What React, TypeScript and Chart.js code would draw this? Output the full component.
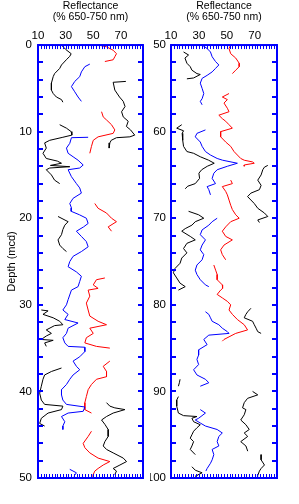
import React, { useEffect, useRef } from "react";
import { Chart, registerables } from "chart.js";

Chart.register(...registerables);

// ---------- axis setup ----------
const xTickLabels = [10, 30, 50, 70];
const xRange = [10, 86];
const leftDepthTicks = [0, 10, 20, 30, 40, 50];
const rightDepthTicks = [50, 60, 70, 80, 90, 100];
const titleLines = ["Reflectance", "(% 650-750 nm)"];
const yTitleText = "Depth (mcd)";

// ---------- left panel (0-50 mcd) ----------
const leftBlackDepth = [
  0, 0.5, 1.0, 1.3, 1.7, 2.3, 2.7, 3.3, 3.65, 4.4, 5.2, 5.6, 6.0, 6.3, 6.6, null,
  4.2, 4.3, 5.2, 6.0, 6.5, 7.1, 7.7, 8.3, 8.8, 9.4, 9.8, 10.4, 10.6, 10.7, 11.0, 11.3, 11.9, null,
  9.2, 9.6, 10.0, 10.4, 10.65, 11.0, 11.3, 11.9, 12.5, 13.1, 13.4, 13.65, 13.9, 14.05, 14.2, 14.4, 15.0, 15.6, 16.0, null,
  19.8, 20.4, 20.8, 21.3, 21.9, 22.5, 23.1, 23.5, 23.85, null,
  30.6, 30.7, 31.1, 31.5, 31.9, 32.3, 32.4, 32.9, 33.3, 33.6, 34.0, 34.1, 34.4, 34.8, null,
  37.3, 37.7, 38.1, 38.6, 39.4, 40.2, 41.0, 41.5, 41.7, 42.1, 42.5, 43.1, 43.7, 44.0, null,
  41.3, 41.7, 41.9, 42.1, 42.5, 42.9, 43.3, 43.8, 44.4, 45.2, 45.8, 46.3, 46.7, 47.1, 47.7, 48.1, 48.5, 48.9, 49.2, 49.6,
];
const leftBlackValue = [
  27, 30, 34, 33, 30.5, 27, 25.7, 22, 21, 19.7, 19.7, 21, 23.3, 27, 28, null,
  73.6, 64.4, 65.6, 69, 71.7, 73, 70.5, 71.7, 75.3, 74, 77, 80, 76.5, 66.8, 63, 62, 61.5, null,
  25.7, 30.6, 34, 34.5, 28, 18.5, 14.8, 16, 13.6, 16, 24, 27, 19, 33, 18.5, 16, 19.7, 22, 25.7, null,
  24.5, 31.8, 29.4, 28, 27, 24.5, 25.7, 28, 30.6, null,
  12.4, 17.3, 13.6, 21, 25.7, 28, 22, 16, 19.7, 16, 12.4, 21, 14.8, 16, null,
  27, 19.7, 14.8, 13.6, 12.4, 11.2, 12.4, 14.8, 28, 27, 17.3, 12.4, 11.2, 14.8, null,
  59.6, 62, 65.6, 72.9, 64.4, 59.6, 56, 58.4, 60.8, 60.8, 58.4, 57.2, 59.6, 64.4, 71.7, 74.1, 69.3, 64.4, 66.8, 65.6,
];

const leftBlueDepth = [
  2.2, 2.5, 3.1, 3.65, 4.2, 4.8, 5.4, 6.0, 6.5, null,
  10.65, 10.7, 11.35, 11.9, 12.5, 12.9, 13.3, 13.85, 14.2, 14.4, 15.2, 16.0, 16.5, 17.1, 17.7, 18.3, 18.8, 19.2,
  19.6, 20.0, 20.6, 21.0, 21.5, 22.1, 22.7, 23.3, 23.85, 24.4, 25.0, 25.6, 26.2, 26.7, 27.3, 27.9, 28.3, 29.4,
  30.0, 30.6, 31.1, 31.7, 32.1, 32.7, 33.3, 33.8, 34.4, 34.8, 34.9, 35.4, 36.0, 36.5, 37.1, 37.5, 38.1, 38.6,
  39.2, 39.8, 40.4, 41.0, 41.5, 41.8, 42.3, 42.5, 42.9, 43.5, 44.0, 44.4, null,
  49.0, 49.4, 49.8,
];
const leftBlueValue = [
  47.5, 43.9, 41.4, 40.2, 36.6, 34.2, 36.6, 39, 41.4, null,
  46.3, 34.2, 33, 30.6, 31.8, 35.4, 39, 42.7, 40.2, 31.8, 34.2, 37.8, 40.2, 41.4, 35.4, 33, 34.2, 34,
  40, 45, 46.3, 43, 37.8, 41.4, 45, 46.3, 41.4, 35.4, 33, 31.8, 37.8, 41.4, 40.2, 39, 34.2, 31.8,
  30.6, 28, 31.8, 29.4, 39, 31.8, 30.6, 28, 29.4, 31.8, 43.9, 43.9, 40.2, 35.4, 37.8, 40.2, 35.4, 33,
  30.6, 27, 27, 28, 30.6, 43.9, 42.7, 31.8, 27, 29.4, 28, 28, null,
  33, 37.8, 36,
];

const leftRedDepth = [
  0, 0.2, 0.6, 1.0, 1.35, 1.7, 1.9, null,
  7.7, 8.3, 8.65, 9.2, 9.8, 10.2, 10.6, 11.0, 11.7, 12.5, null,
  18.3, 18.85, 19.4, 20.0, 20.4, 21.0, 21.5, null,
  26.9, 27.1, 27.7, 28.1, 28.3, 29.0, 29.8, 30.6, 31.3, 31.9, 32.3, 32.7, 33.3, 33.8, 34.4, 34.8, 35.0, null,
  36.5, 37.1, 37.7, 38.3, 38.6, 39.2, 39.8, 40.6, 41.3, 41.9, 42.1, 42.5, null,
  44.6, 45.2, 46.0, 46.5, 47.1, 47.7, 48.1, 48.5, 48.9, 49.2, 49.6, 49.9,
];
const leftRedValue = [
  53.5, 59.6, 64.4, 66.8, 65.6, 64.4, 58.4, null,
  56, 57.2, 59.6, 63.2, 65.6, 64.4, 53.5, 50, 48.7, 47.5, null,
  51.1, 53.5, 59.6, 63.2, 66.8, 60.8, 63.2, null,
  58.4, 52.3, 50, 53.5, 46.3, 47.5, 45, 46.3, 47.5, 53.5, 59.6, 47.5, 50, 45, 43.9, 52.3, 62, null,
  62, 57.2, 59.6, 59.6, 52.3, 48.7, 46.3, 45, 43.9, 43.9, 43.9, 48.7, null,
  48.7, 46.3, 42.7, 43.9, 47.5, 53.5, 62, 57.2, 53.5, 51.1, 50, 50,
];

// ---------- right panel (50-100 mcd) ----------
const rightBlackDepth = [
  50.8, 51.15, 51.5, 52.1, 52.5, 52.9, 53.3, 53.4, 53.8, 53.9, null,
  59.2, 59.6, 59.9, 60.2, 61.0, 61.7, 62.3, 62.5, 62.9, 63.3, 63.65, 64.0, 64.4, 64.8, 65.4, 66.0, 66.3, 66.6, null,
  63.9, 64.1, 64.4, 65.0, 65.6, 66.2, 66.7, 67.1, 67.5, 67.9, 68.3, 68.85, 69.4, 69.8, 70.2, 70.5, null,
  69.2, 69.6, 70.0, 70.4, 70.8, 71.2, 71.5, 72.1, 72.5, 72.9, 73.5, 74.0, 74.6, 75.2, 75.8, 76.3, 76.9, 77.5, 77.9, 78.3, null,
  80.4, 80.8, 81.1, 81.5, 81.9, 82.3, 82.7, 83.1, 83.3, null,
  88.6, 89.0, 89.4, null,
  90.6, 91.0, 91.7, 92.5, 92.8, 92.9, 93.1, 93.5, 93.85, 94.2, 94.6, 95.0, 95.4, 95.8, 96.3, 96.7, 97.3, null,
  98.7, 99.1, 99.4, 99.7, 99.9, null,
  90.0, 90.4, 90.8, 91.3, 91.9, 92.1, 92.7, 93.3, 93.85, 94.4, 94.8, 95.2, 95.8, 96.3, 96.9, null,
  97.3, 97.9, 98.5, 98.9, 99.2, 99.7, 100,
];
const rightBlackValue = [
  19, 22.6, 20, 21.4, 23.8, 25, 28.6, 31, 26.2, 21.4, null,
  17.7, 14.1, 19, 18, 18.4, 19, 21.4, 26.2, 31, 37, 41, 36, 32, 30, 30.5, 27.4, 22, 20.2, null,
  79.4, 77, 75.8, 74.6, 72.2, 74.6, 73.4, 67.3, 64.9, 67.3, 69.7, 72.2, 77, 79.4, 72.2, 73.4, null,
  22.6, 29.8, 33.5, 27.4, 25, 20.2, 17.7, 23.8, 27.4, 21.4, 19, 21.4, 17.7, 16.5, 12.9, 11.7, 14.1, 16.5, 20.2, 15.3, null,
  67.3, 65, 63.7, 62.5, 68.5, 69.7, 71, 72.2, 74.6, null,
  16.5, 16, 15.3, null,
  15.3, 14.1, 14.1, 15.3, 19, 28.6, 25, 26.2, 31, 28.6, 26.2, 25, 23.8, 26.2, 25, 23.8, 27.4, null,
  25, 27.4, 32.3, 28.6, 28, null,
  68.5, 72.2, 64.9, 62.5, 61.3, 63.7, 62.5, 60, 63.7, 66.1, 62.5, 65, 60, 63.7, 65, null,
  74.6, 74.6, 77, 74.6, 73.4, 72.2, 72,
];

const rightBlueDepth = [
  50.0, 50.4, 50.8, 51.35, 51.9, 52.3, 52.7, 53.1, 53.5, 53.85, 54.4, 55.0, 55.6, 56.2, 56.5, 56.9, null,
  59.8, 60.2, 60.6, 61.2, 61.7, 62.3, 62.7, 63.1, 63.3, 63.65, 64.0, 64.4, 64.8, 65.4, 66.0, 66.35, 66.7, 67.3, null,
  70.0, 70.4, 70.8, 71.35, 71.9, 72.5, 73.1, 73.65, 74.2, 74.8, 75.4, 76.0, 76.5, 77.1, 77.7, 77.9, null,
  80.8, 81.1, 81.5, 81.9, 82.3, 82.7, 83.1, 83.3, 83.5, 84.0, 84.6, 85.2, 85.8, 86.3, 86.9, 87.5, 88.1, 88.6, 89.0, 89.4, null,
  92.1, 92.5, 93.1, 93.3, 93.65, 94.0, 94.4, 94.8, 95.2, 95.8, 96.3, 96.7, 97.3, 97.9, 98.3, 98.9, 99.2,
];
const rightBlueValue = [
  32.3, 35.9, 38.3, 39.5, 41.9, 44.3, 41.9, 39.5, 35.9, 32.3, 31, 32.3, 33.5, 32.3, 31, 32.3, null,
  34.7, 28.6, 27.4, 31, 32.3, 34.7, 38.3, 43.1, 47, 57.6, 50.4, 43.1, 40.7, 39.5, 41.9, 35.9, 37.1, 38.3, null,
  43.1, 39.5, 37.1, 32.3, 31, 34.7, 32.3, 31, 33.5, 32.3, 28.6, 27.4, 28.6, 31, 34.7, 37.1, null,
  34.7, 37.1, 38.3, 39.5, 44.3, 46.8, 50.4, 51.6, 37.1, 33.5, 35.9, 29.8, 29.8, 28.6, 29.8, 26.2, 28.6, 34.7, 37.1, 31, null,
  31, 34.7, 29.8, 27.4, 31, 34.7, 43.1, 46.8, 44.3, 43.1, 44.3, 39.5, 40.7, 39.5, 38.3, 35.9, 35,
];

const rightRedDepth = [
  50.0, 50.4, 51.0, 51.5, 52.1, 52.5, 52.9, 53.3, null,
  55.6, 56.0, 56.3, 56.7, 57.3, 57.7, 58.1, 58.5, 58.8, 59.2, 59.6, 60.0, 60.6, 61.2, 61.7, 62.3, 62.7, 63.1, 63.3, 63.5, 63.65, 63.85, 64.0, null,
  65.6, 66.0, 66.35, 66.9, 67.3, 67.9, 68.5, 69.0, 69.6, 70.0, 70.4, 71.0, 71.5, 72.1, 72.5, 73.1, 73.65, 74.2, 74.8, null,
  75.4, 76.0, 76.5, 77.1, 77.7, 78.1, 78.3, 78.8, 79.2, 79.6, 80.0, 80.6, 81.1, 81.7, 82.3, 82.9, 83.3, 83.7, 84.0, 84.2,
];
const rightRedValue = [
  52.8, 51.6, 52.8, 56.4, 58.9, 58.9, 56.4, 54, null,
  51.6, 46.8, 50.4, 48, 50.4, 51.6, 44.3, 46.8, 49.2, 51.6, 54, 45.6, 45.6, 49.2, 52.8, 55.2, 57.6, 60, 62.5, 68.5, 69.7, 62.5, 62.5, null,
  52.8, 54, 46.8, 49.2, 50.4, 51.6, 52.8, 54, 56.4, 58.9, 52.8, 49.2, 46.8, 49.2, 54, 48, 45.6, 46.8, 49.2, null,
  40.7, 42, 43.1, 43.1, 46.8, 47, 45.6, 43.1, 46.8, 50.4, 52.8, 51.6, 54, 57.6, 62.5, 64.9, 56.4, 51.6, 48, 46.8,
];

// ---------- styling ----------
const FONT = "'Liberation Sans', Arial, Helvetica, sans-serif";
const AXIS_BLUE = "#0000ff";
const BLACK = "#000000";
const BLUE = "#0000ff";
const RED = "#ff0000";

type Num = number | null;

function toPoints(depth: Num[], value: Num[]) {
  return depth.map((d, i) => ({ x: value[i], y: d }));
}

const framePlugin = {
  id: "frame",
  afterDatasetsDraw(chart: any) {
    const { ctx, chartArea } = chart;
    const { left, right, top, bottom } = chartArea;
    const xs = chart.scales.x;
    const ys = chart.scales.y;
    ctx.save();
    ctx.strokeStyle = AXIS_BLUE;
    // minor ticks on top & bottom (inward)
    ctx.lineWidth = 1;
    ctx.beginPath();
    for (let v = xRange[0]; v <= xRange[1] + 0.001; v += 2) {
      const px = Math.round(xs.getPixelForValue(v)) + 0.5;
      ctx.moveTo(px, top);
      ctx.lineTo(px, top + 4);
      ctx.moveTo(px, bottom);
      ctx.lineTo(px, bottom - 4);
    }
    ctx.stroke();
    // depth ticks on left & right (inward)
    ctx.lineWidth = 2;
    ctx.beginPath();
    for (let d = ys.min; d <= ys.max + 0.001; d += 2) {
      const py = Math.round(ys.getPixelForValue(d));
      ctx.moveTo(left, py);
      ctx.lineTo(left + 5, py);
      ctx.moveTo(right, py);
      ctx.lineTo(right - 5, py);
    }
    ctx.stroke();
    // frame
    ctx.lineWidth = 2;
    ctx.strokeRect(left, top, right - left, bottom - top);
    ctx.restore();
  },
};

type PanelProps = {
  left: number;
  width: number;
  yMin: number;
  yMax: number;
  yTicks: number[];
  yAxisWidth: number;
  padRight: number;
  showYTitle: boolean;
  labelPad: number;
  series: { depth: Num[]; value: Num[]; color: string }[];
};

function Panel(p: PanelProps) {
  const ref = useRef<HTMLCanvasElement>(null);
  useEffect(() => {
    const chart = new Chart(ref.current as HTMLCanvasElement, {
      type: "line",
      data: {
        datasets: p.series.map((s) => ({
          data: toPoints(s.depth, s.value) as any,
          borderColor: s.color,
          backgroundColor: s.color,
          borderWidth: 1,
          pointRadius: 0,
          tension: 0,
          fill: false,
          spanGaps: false,
        })),
      },
      options: {
        responsive: false,
        animation: false,
        events: [],
        layout: { padding: { left: 0, right: p.padRight, top: 0, bottom: 26 } },
        plugins: {
          legend: { display: false },
          tooltip: { enabled: false },
          title: {
            display: true,
            fullSize: false,
            text: titleLines,
            color: BLACK,
            font: { family: FONT, size: 10.5, weight: "normal", lineHeight: 1.05 },
            padding: { top: 1, bottom: 0 },
          },
        },
        scales: {
          x: {
            type: "linear",
            position: "top",
            min: xRange[0],
            max: xRange[1],
            grid: { display: false, drawTicks: false },
            border: { display: false },
            afterBuildTicks: (s: any) => {
              s.ticks = xTickLabels.map((v) => ({ value: v }));
            },
            afterFit: (s: any) => {
              s.height = 22;
            },
            ticks: {
              color: BLACK,
              padding: 2,
              maxRotation: 0,
              autoSkip: false,
              font: { family: FONT, size: 11.5 },
            },
          },
          y: {
            type: "linear",
            reverse: true,
            min: p.yMin,
            max: p.yMax,
            grid: { display: false, drawTicks: false },
            border: { display: false },
            afterBuildTicks: (s: any) => {
              s.ticks = p.yTicks.map((v) => ({ value: v }));
            },
            afterFit: (s: any) => {
              s.width = p.yAxisWidth;
            },
            ticks: {
              color: BLACK,
              padding: p.labelPad,
              autoSkip: false,
              font: { family: FONT, size: 11.5 },
            },
            title: {
              display: p.showYTitle,
              text: yTitleText,
              color: BLACK,
              font: { family: FONT, size: 11 },
              padding: { top: 5, bottom: 0 },
            },
          },
        },
      },
      plugins: [framePlugin],
    });
    return () => chart.destroy();
  }, []);
  return (
    <div style={{ position: "absolute", left: p.left, top: 0, width: p.width, height: 504 }}>
      <canvas ref={ref} width={p.width} height={504} style={{ display: "block" }} />
    </div>
  );
}

export default function App() {
  return (
    <div style={{ position: "absolute", left: 0, top: 0, width: 299, height: 504, background: "#fff" }}>
      <Panel
        left={0}
        width={150}
        yMin={0}
        yMax={50}
        yTicks={leftDepthTicks}
        yAxisWidth={38}
        padRight={7}
        showYTitle={true}
        labelPad={6}
        series={[
          { depth: leftBlackDepth, value: leftBlackValue, color: BLACK },
          { depth: leftBlueDepth, value: leftBlueValue, color: BLUE },
          { depth: leftRedDepth, value: leftRedValue, color: RED },
        ]}
      />
      <Panel
        left={150}
        width={149}
        yMin={50}
        yMax={100}
        yTicks={rightDepthTicks}
        yAxisWidth={21}
        padRight={22}
        showYTitle={false}
        labelPad={5}
        series={[
          { depth: rightBlackDepth, value: rightBlackValue, color: BLACK },
          { depth: rightBlueDepth, value: rightBlueValue, color: BLUE },
          { depth: rightRedDepth, value: rightRedValue, color: RED },
        ]}
      />
    </div>
  );
}
